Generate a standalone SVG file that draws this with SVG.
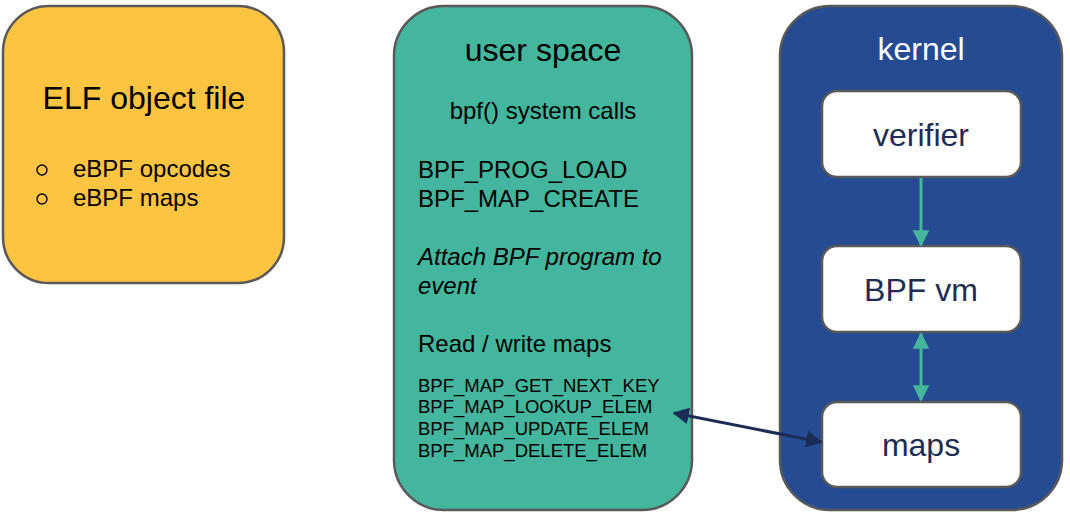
<svg xmlns="http://www.w3.org/2000/svg" width="1070" height="517" viewBox="0 0 1070 517">
<style>
.box{stroke:#595959;stroke-width:2.5}
.t{font-family:"Liberation Sans",Arial,sans-serif;fill:#000}
.big{font-size:32px}
.mid{font-size:24px}
.sm{font-size:18.5px}
.inner{fill:#fff;stroke:#595959;stroke-width:2.5}
.navy{fill:#1c2d55}
</style>
<defs>
<marker id="ta" viewBox="0 0 10 10" refX="9" refY="5" markerWidth="5.5" markerHeight="5.5" orient="auto-start-reverse" markerUnits="strokeWidth"><path d="M0,0 L10,5 L0,10 z" fill="#45b69c"/></marker>
<marker id="na" viewBox="0 0 10 10" refX="9" refY="5" markerWidth="5.5" markerHeight="5.5" orient="auto-start-reverse" markerUnits="strokeWidth"><path d="M0,0 L10,5 L0,10 z" fill="#1c2d55"/></marker>
</defs>
<g id="elf">
<rect class="box" x="3" y="6" width="281" height="277" rx="46" fill="#fdc441"/>
<text class="t big" x="144" y="109" text-anchor="middle">ELF object file</text>
<circle cx="42" cy="170" r="5" fill="none" stroke="#000" stroke-width="1.4"/>
<circle cx="42" cy="199" r="5" fill="none" stroke="#000" stroke-width="1.4"/>
<text class="t mid" x="73" y="177">eBPF opcodes</text>
<text class="t mid" x="73" y="206">eBPF maps</text>
</g>
<g id="user">
<rect class="box" x="394" y="6" width="298" height="504" rx="50" fill="#43b69d"/>
<text class="t big" x="543" y="61" text-anchor="middle">user space</text>
<text class="t mid" x="543" y="119" text-anchor="middle">bpf() system calls</text>
<text class="t mid" x="418" y="178">BPF_PROG_LOAD</text>
<text class="t mid" x="418" y="207">BPF_MAP_CREATE</text>
<text class="t mid" x="418" y="265" font-style="italic">Attach BPF program to</text>
<text class="t mid" x="418" y="294" font-style="italic">event</text>
<text class="t mid" x="418" y="352">Read / write maps</text>
<text class="t sm" x="418" y="392">BPF_MAP_GET_NEXT_KEY</text>
<text class="t sm" x="418" y="413">BPF_MAP_LOOKUP_ELEM</text>
<text class="t sm" x="418" y="435">BPF_MAP_UPDATE_ELEM</text>
<text class="t sm" x="418" y="457">BPF_MAP_DELETE_ELEM</text>
</g>
<g id="kernel">
<rect class="box" x="780" y="6" width="282" height="504" rx="50" fill="#254b93"/>
<text class="t big" x="921" y="60" text-anchor="middle" style="fill:#fff">kernel</text>
</g>
<g id="verifier">
<rect class="inner" x="822" y="91" width="199" height="86" rx="15"/>
<text class="t big navy" x="921" y="146" text-anchor="middle">verifier</text>
</g>
<g id="bpfvm">
<rect class="inner" x="822" y="246" width="199" height="86" rx="15"/>
<text class="t big navy" x="921" y="301" text-anchor="middle">BPF vm</text>
</g>
<g id="maps">
<rect class="inner" x="822" y="402" width="199" height="85" rx="15"/>
<text class="t big navy" x="921" y="456" text-anchor="middle">maps</text>
</g>
<g id="connectors" fill="none">
<line x1="921" y1="178" x2="921" y2="245" stroke="#45b69c" stroke-width="3" marker-end="url(#ta)"/>
<line x1="921" y1="334" x2="921" y2="400" stroke="#45b69c" stroke-width="3" marker-start="url(#ta)" marker-end="url(#ta)"/>
<line x1="674" y1="413" x2="821" y2="442" stroke="#1c2d55" stroke-width="3" marker-start="url(#na)" marker-end="url(#na)"/>
</g>
</svg>
